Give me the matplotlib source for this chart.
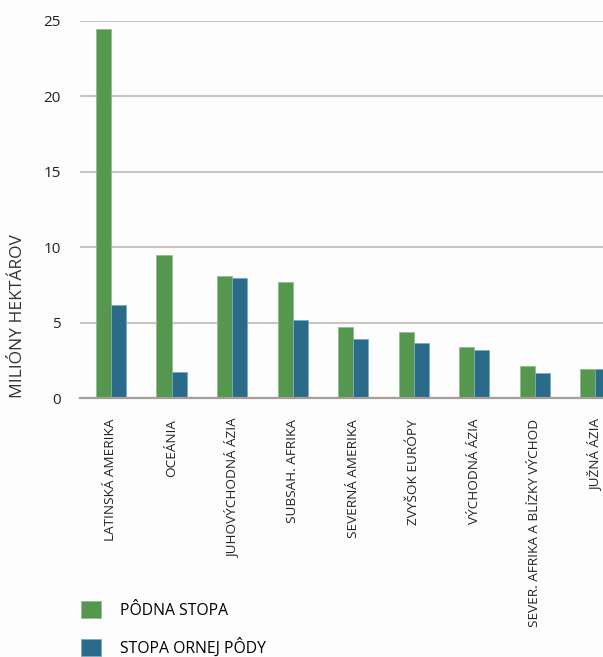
import numpy as np
import matplotlib
matplotlib.use("Agg")
import matplotlib.pyplot as plt

plt.rcParams["font.family"] = ["Open Sans", "DejaVu Sans"]

regions = ["LATINSKÁ AMERIKA", "OCEÁNIA", "JUHOVÝCHODNÁ ÁZIA", "SUBSAH. AFRIKA",
           "SEVERNÁ AMERIKA", "ZVYŠOK EURÓPY", "VÝCHODNÁ ÁZIA",
           "SEVER. AFRIKA A BLÍZKY VÝCHOD", "JUŽNÁ ÁZIA"]
podna_stopa = [24.5, 9.5, 8.1, 7.7, 4.7, 4.4, 3.4, 2.1, 1.9]
orna_poda = [6.2, 1.7, 7.95, 5.2, 3.9, 3.65, 3.2, 1.65, 1.9]
series_labels = ["PÔDNA STOPA", "STOPA ORNEJ PÔDY"]

GREEN = "#55974f"
BLUE = "#296b89"

fig = plt.figure(figsize=(6.03, 6.57), dpi=100)
fig.patch.set_facecolor("#fdfdfd")
ax = fig.add_axes([80 / 603, 1 - 398 / 657, 1 - 80 / 603, (398 - 21) / 657])
ax.set_facecolor("#fdfdfd")

x = np.arange(len(regions))
w = 0.248
b1 = ax.bar(x - w / 2, podna_stopa, w, color=GREEN, edgecolor="#8fbf8a", linewidth=0.6)
b2 = ax.bar(x + w / 2, orna_poda, w, color=BLUE, edgecolor="#7fa9bd", linewidth=0.6)

ax.set_ylim(0, 25)
ax.set_xlim(-0.512, 8.13)
ax.set_yticks([0, 5, 10, 15, 20, 25])
ax.yaxis.grid(True, color="#cbc5bf", linewidth=1.5)
ax.set_axisbelow(True)
for s in ["top", "right", "left"]:
    ax.spines[s].set_visible(False)
ax.spines["bottom"].set_color("#a59d96")
ax.spines["bottom"].set_linewidth(1.6)
ax.tick_params(axis="both", length=0, colors="#222222")
ax.tick_params(axis="y", labelsize=11, pad=14)
ax.set_xticks(x)
ax.set_xticklabels(regions, rotation=90, fontsize=9.7, ha="center", va="top")
ax.tick_params(axis="x", pad=15)

fig.text(18 / 603, 1 - 398 / 657, "MILIÓNY HEKTÁROV", rotation=90,
         ha="center", va="bottom", fontsize=12.5, color="#333333")

fig.legend([b1, b2], series_labels, loc="upper left",
           bbox_to_anchor=(75 / 603, 1 - 595 / 657), frameon=False,
           fontsize=11.3, handlelength=1.25, handleheight=1.25,
           handletextpad=1.2, labelspacing=1.2, borderaxespad=0)

fig.savefig("out.png", dpi=100, facecolor=fig.get_facecolor())
